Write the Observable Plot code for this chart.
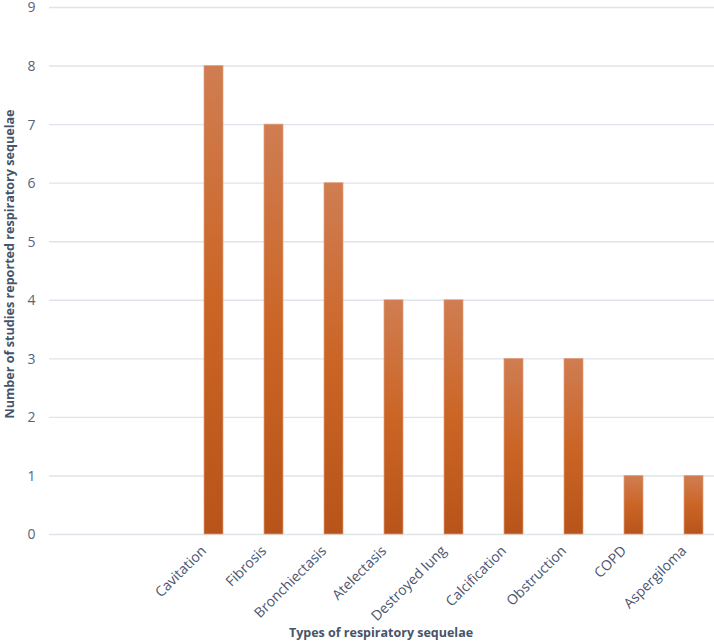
<!DOCTYPE html>
<html>
<head>
<meta charset="utf-8">
<script src="https://cdn.jsdelivr.net/npm/d3@7"></script>
<script src="https://cdn.jsdelivr.net/npm/@observablehq/plot@0.6"></script>
<style>
  html, body { margin: 0; padding: 0; background: #fff; }
  #chart svg { display: block; }
</style>
</head>
<body>
<div id="chart"></div>
<script>
const blanks = ["", " "];
const categories = ["Cavitation", "Fibrosis", "Bronchiectasis", "Atelectasis", "Destroyed lung", "Calcification", "Obstruction", "COPD", "Aspergiloma"];
const counts = [8, 7, 6, 4, 4, 3, 3, 1, 1];
const yTicks = [0, 1, 2, 3, 4, 5, 6, 7, 8, 9];
const xTitle = "Types of respiratory sequelae";
const yTitle = "Number of studies reported respiratory sequelae";

const data = categories.map((c, i) => ({cat: c, n: counts[i]}));
const FONT = "'Open Sans', sans-serif";

const plot = Plot.plot({
  width: 714,
  height: 644,
  marginLeft: 49,
  marginRight: 0,
  marginTop: 7,
  marginBottom: 110,
  style: {fontFamily: FONT, background: "#fff", overflow: "visible"},
  x: {type: "band", domain: [...blanks, ...categories], range: [61, 725.4], paddingInner: 0.685, paddingOuter: 0.3425, align: 0.5, axis: null},
  y: {domain: [0, 9], axis: null},
  marks: [
    Plot.ruleY(yTicks, {stroke: "#dfe3ea", strokeWidth: 1.4}),
    Plot.barY(data, {x: "cat", y: "n", fill: "#c9631f", stroke: "#e3a27c", strokeWidth: 0.7}),
    Plot.text(yTicks, {y: d => d, text: d => String(d), frameAnchor: "left", dx: -14, dy: 0.5, textAnchor: "end", fill: "#5a6377", fontSize: 14}),
    Plot.text(data, {x: "cat", y: () => 0, text: "cat", rotate: -45, textAnchor: "end", dx: -10, dy: 14, fill: "#4a5670", fontSize: 14}),
  ]
});

const svg = d3.select(plot);
const defs = svg.insert("defs", ":first-child");
const g = defs.append("linearGradient").attr("id", "barGrad").attr("x1", 0).attr("y1", 0).attr("x2", 0).attr("y2", 1);
g.append("stop").attr("offset", "0%").attr("stop-color", "#d07d52");
g.append("stop").attr("offset", "50%").attr("stop-color", "#cb6526");
g.append("stop").attr("offset", "100%").attr("stop-color", "#b8541a");
svg.selectAll('g[aria-label="bar"] rect').attr("fill", "url(#barGrad)");

// axis titles
svg.append("text")
  .attr("x", 381).attr("y", 637)
  .attr("text-anchor", "middle")
  .attr("font-family", FONT).attr("font-weight", "bold").attr("font-size", 12.5)
  .attr("fill", "#44546a")
  .text(xTitle);
svg.append("text")
  .attr("transform", "translate(11,264) rotate(-90)")
  .attr("text-anchor", "middle").attr("dominant-baseline", "middle")
  .attr("font-family", FONT).attr("font-weight", "bold").attr("font-size", 12.6)
  .attr("fill", "#44546a")
  .text(yTitle);

document.getElementById("chart").appendChild(plot);
</script>
</body>
</html>
